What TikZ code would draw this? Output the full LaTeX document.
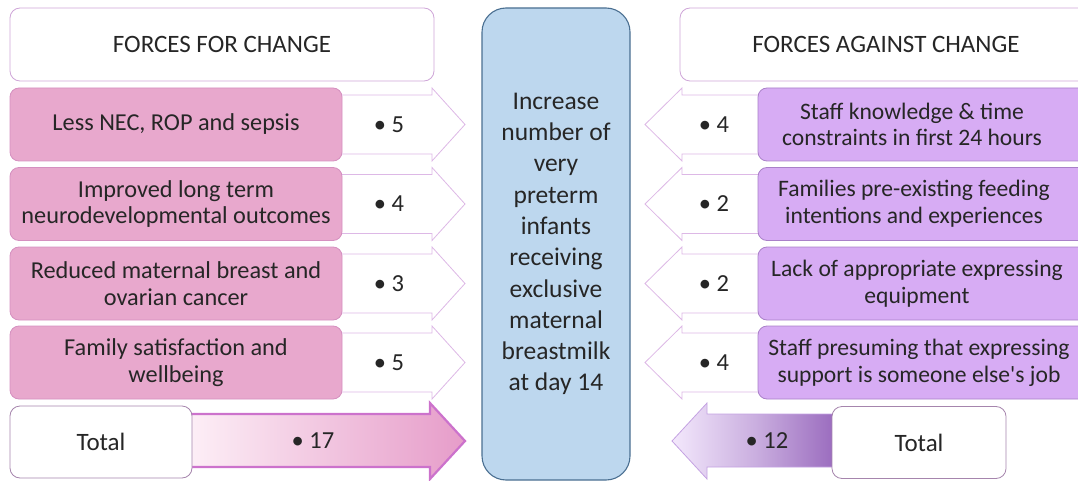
\documentclass[tikz,border=0pt]{standalone}
\usepackage{fontspec}
\setmainfont{Carlito}
\definecolor{txt}{HTML}{262626}
\definecolor{hdrline}{HTML}{CFA6D8}
\definecolor{pinkfill}{HTML}{E8A8CD}
\definecolor{pinkline}{HTML}{D590C0}
\definecolor{lavfill}{HTML}{D7ACF4}
\definecolor{lavline}{HTML}{A980C8}
\definecolor{arrline}{HTML}{DDB8E6}
\definecolor{midfill}{HTML}{BDD7EE}
\definecolor{midline}{HTML}{4A6F91}
\definecolor{totpinkA}{HTML}{FDF0F7}
\definecolor{totpinkB}{HTML}{E69CC9}
\definecolor{totpinkline}{HTML}{CC72CC}
\definecolor{totlavA}{HTML}{F3E8FC}
\definecolor{totlavB}{HTML}{9767BC}
\definecolor{totlavline}{HTML}{C4A2E2}
\tikzset{
  hdrbox/.style={draw=hdrline, fill=white, rounded corners=10pt, line width=0.8pt,
    minimum height=73pt, font=\fontsize{25}{30}\selectfont, text=txt},
  forbox/.style={draw=pinkline, fill=pinkfill, rounded corners=9pt, line width=0.8pt,
    minimum width=332pt, minimum height=73pt, align=center,
    font=\fontsize{24.3}{26.7}\selectfont, text=txt},
  agbox/.style={draw=lavline, fill=lavfill, rounded corners=9pt, line width=0.8pt,
    minimum width=332pt, minimum height=73pt},
  agtext/.style={align=center, font=\fontsize{23.6}{26.7}\selectfont, text=txt},
  totbox/.style={draw=hdrline!80!black, fill=white, rounded corners=10pt, line width=0.8pt,
    minimum height=72pt, font=\fontsize{25}{30}\selectfont, text=txt},
  val/.style={font=\fontsize{24.5}{28}\selectfont, text=txt},
  arrbody/.style={draw=arrline, fill=white, line width=0.8pt, line join=miter},
}
\newcommand{\pt}{\textbullet\ }
\begin{document}
\begin{tikzpicture}[x=1pt, y=-1pt]
\useasboundingbox (0,0) rectangle (1078,481);
\clip (0,0) rectangle (1078,481);

% block arrows pushing towards the centre (drawn first, boxes overlap their tails)
\foreach \cy in {124.5,204,283.5,362.5}{
  \draw[arrbody] (330,\cy-29.5) -- (432,\cy-29.5) -- (432,\cy-36.5) -- (465,\cy)
      -- (432,\cy+36.5) -- (432,\cy+29.5) -- (330,\cy+29.5);
  \draw[arrbody] (770,\cy-29.5) -- (682,\cy-29.5) -- (682,\cy-36.5) -- (645,\cy)
      -- (682,\cy+36.5) -- (682,\cy+29.5) -- (770,\cy+29.5);
}

% total arrows
\draw[draw=totpinkline, line width=2.2pt, left color=totpinkA, right color=totpinkB, line join=miter]
  (185,414) -- (430,414) -- (430,403) -- (465,441) -- (430,479) -- (430,467) -- (185,467) -- cycle;
\draw[draw=totlavline, line width=0.8pt, left color=totlavA, right color=totlavB,
      middle color=totlavB!45!totlavA, line join=miter]
  (840,414) -- (707,414) -- (707,403) -- (672,441) -- (707,479) -- (707,467) -- (840,467) -- cycle;

% headers
\node[hdrbox, minimum width=424pt] (hfor) at (222,44.5) {FORCES FOR CHANGE};
\node[hdrbox, minimum width=412pt] (hag) at (886,44.5) {FORCES AGAINST CHANGE};

% centre goal
\node[draw=midline, fill=midfill, rounded corners=24pt, line width=1.1pt,
      minimum width=148pt, minimum height=472pt, align=center,
      font=\fontsize{25.5}{31.3}\selectfont, text=txt] (goal) at (556,244)
  {Increase\\number of\\very\\preterm\\infants\\receiving\\exclusive\\maternal\\breastmilk\\at day 14};

% forces for change
\node[forbox] (f1) at (176,124.5) {Less NEC, ROP and sepsis};
\node[forbox] (f2) at (176,204) {Improved long term\\neurodevelopmental outcomes};
\node[forbox] (f3) at (176,283.5) {Reduced maternal breast and\\ovarian cancer};
\node[forbox] (f4) at (176,362.5) {Family satisfaction and\\wellbeing};
\node[val] (v1) at (389,124.5) {\pt5};
\node[val] (v2) at (389,204) {\pt4};
\node[val] (v3) at (389,283.5) {\pt3};
\node[val] (v4) at (389,362.5) {\pt5};

% forces against change
\node[agbox] (a1) at (924,124.5) {};
\node[agbox] (a2) at (924,204) {};
\node[agbox] (a3) at (924,283.5) {};
\node[agbox] (a4) at (924,362.5) {};
\node[agtext] (a1t) at (912,124.5) {Staff knowledge \& time\\constraints in first 24 hours};
\node[agtext] (a2t) at (914,204) {Families pre-existing feeding\\intentions and experiences};
\node[agtext] (a3t) at (917,283.5) {Lack of appropriate expressing\\equipment};
\node[agtext] (a4t) at (919,362.5) {Staff presuming that expressing\\support is someone else\textquotesingle s job};
\node[val] (w1) at (714,124.5) {\pt4};
\node[val] (w2) at (714,204) {\pt2};
\node[val] (w3) at (714,283.5) {\pt2};
\node[val] (w4) at (714,362.5) {\pt4};

% totals
\node[totbox, minimum width=182pt] (tfor) at (101,442) {Total};
\node[val] (tv1) at (313,441) {\pt17};
\node[totbox, minimum width=174pt] (tag) at (919,442.5) {Total};
\node[val] (tv2) at (767,441) {\pt12};
\end{tikzpicture}
\end{document}
